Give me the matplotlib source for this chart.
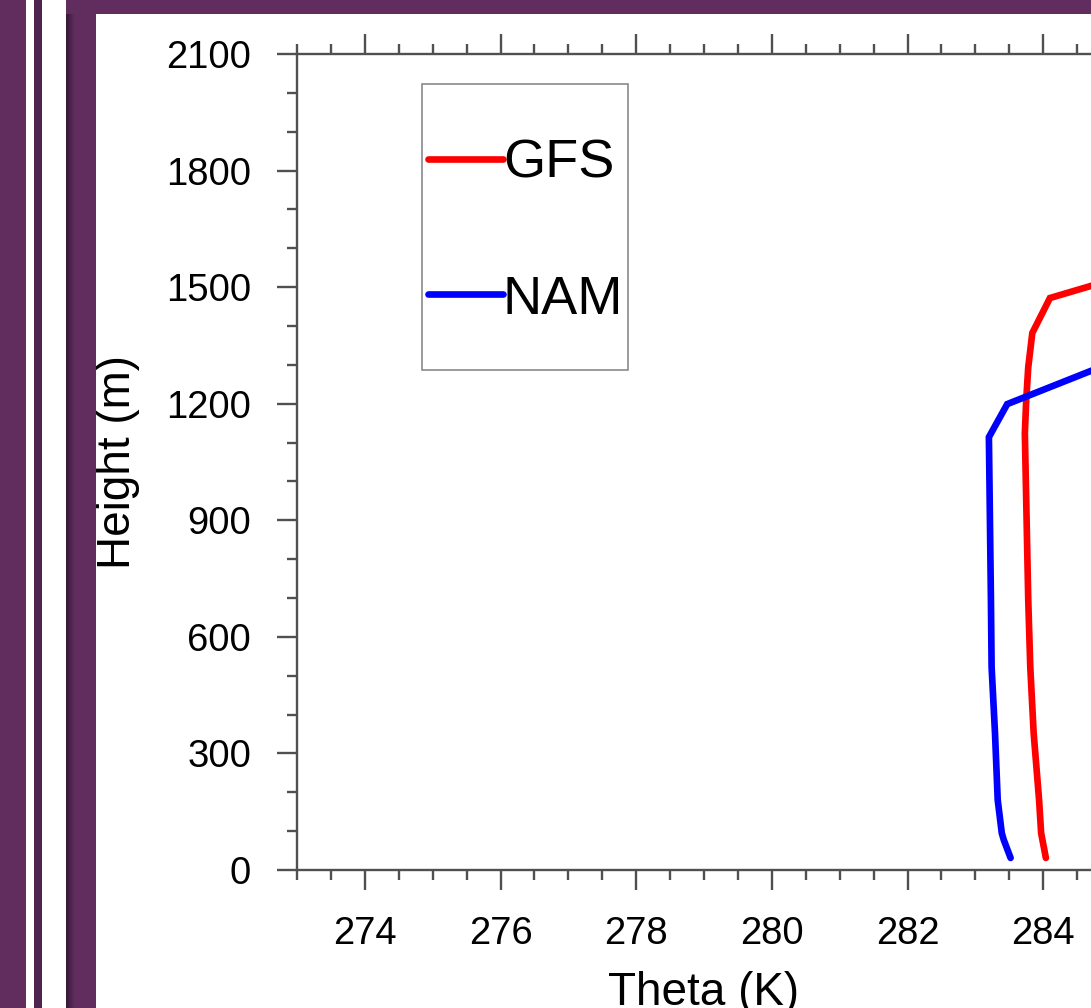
import matplotlib
matplotlib.use("Agg")
import matplotlib.pyplot as plt
from matplotlib.patches import Rectangle
from matplotlib.lines import Line2D
from matplotlib.ticker import MultipleLocator

plt.rcParams['font.family'] = ['Liberation Sans', 'DejaVu Sans']

# Potential temperature profiles (K) against height (m)
gfs_theta = [284.04, 283.97, 283.94, 283.86, 283.81, 283.78, 283.75, 283.73, 283.75,
             283.78, 283.84, 284.10, 284.74, 285.5]
gfs_height = [31, 95, 180, 352, 522, 695, 952, 1124, 1209, 1294, 1382, 1472, 1505, 1530]
nam_theta = [283.52, 283.42, 283.39, 283.33, 283.29, 283.24, 283.23, 283.20, 283.47,
             284.74, 285.5]
nam_height = [31, 77, 95, 180, 352, 522, 695, 1114, 1199, 1287, 1338]

series_names = ["GFS", "NAM"]
series_colors = ["#ff0000", "#0000ff"]

x_ticks = [274, 276, 278, 280, 282, 284]
y_ticks = [0, 300, 600, 900, 1200, 1500, 1800, 2100]

W, H = 1091, 1008
fig = plt.figure(figsize=(W / 100, H / 100), dpi=100)

purple = "#612c5e"
dark_purple = "#4d2450"


def frect(x0, y0, x1, y1, color, z=0):
    fig.patches.append(Rectangle((x0 / W, 1 - y1 / H), (x1 - x0) / W, (y1 - y0) / H,
                                 transform=fig.transFigure, facecolor=color,
                                 edgecolor="none", zorder=z))


# slide frame decoration
frect(0, 0, 26, H, purple)
frect(34, 0, 42, H, dark_purple)
frect(66, 0, W, 14, purple)
frect(66, 0, 96, H, purple)
for i in range(8):
    shade = 0.55 + 0.45 * i / 8
    r, g, b = 0x61 / 255, 0x2c / 255, 0x5e / 255
    frect(66 + i, 14, 67 + i, H, (r * shade, g * shade, b * shade))

ax_left, ax_right, ax_top, ax_bottom = 297, 1111, 54, 870
ax = fig.add_axes([ax_left / W, 1 - ax_bottom / H,
                   (ax_right - ax_left) / W, (ax_bottom - ax_top) / H])

LW = 4.8
lines = []
for th, hg, col in [(gfs_theta, gfs_height, series_colors[0]),
                    (nam_theta, nam_height, series_colors[1])]:
    ln, = ax.plot(th, hg, color=col, lw=LW, solid_capstyle="round",
                  solid_joinstyle="miter")
    lines.append(ln)

ax.set_xlim(273, 285)
ax.set_ylim(0, 2100)
ax.set_xticks(x_ticks)
ax.set_yticks(y_ticks)
ax.xaxis.set_minor_locator(MultipleLocator(0.5))
ax.yaxis.set_minor_locator(MultipleLocator(100))

spine_col = "#505050"
for s in ax.spines.values():
    s.set_color(spine_col)
    s.set_linewidth(1.7)
ax.tick_params(which="both", direction="out", top=True, right=True,
               color=spine_col, width=1.7)
ax.tick_params(which="major", length=14.5, labelsize=27.5, pad=18.5)
ax.tick_params(which="minor", length=7.2)

ax.set_xlabel("Theta (K)", fontsize=33, labelpad=14)
ax.set_ylabel("Height (m)", fontsize=33, labelpad=19)


def axpt(px, py):
    return ((px - ax_left) / (ax_right - ax_left), (ax_bottom - py) / (ax_bottom - ax_top))


# legend box
x0, y0 = axpt(422, 370)
x1, y1 = axpt(628, 84)
ax.add_patch(Rectangle((x0, y0), x1 - x0, y1 - y0, transform=ax.transAxes,
                       facecolor="white", edgecolor="#8a8a8a", lw=1.2, zorder=5))
for name, ln, ly, by in [(series_names[0], lines[0], 159, 177),
                         (series_names[1], lines[1], 294, 314)]:
    a, b = axpt(428, ly)
    c, _ = axpt(503, ly)
    ax.add_line(Line2D([a, c], [b, b], transform=ax.transAxes, color=ln.get_color(),
                       lw=LW, solid_capstyle="round", zorder=6))
    tx, ty = axpt(503, by)
    ax.text(tx, ty, name, transform=ax.transAxes, fontsize=39, ha="left",
            va="baseline", zorder=6)

fig.savefig("out.png", dpi=100)
